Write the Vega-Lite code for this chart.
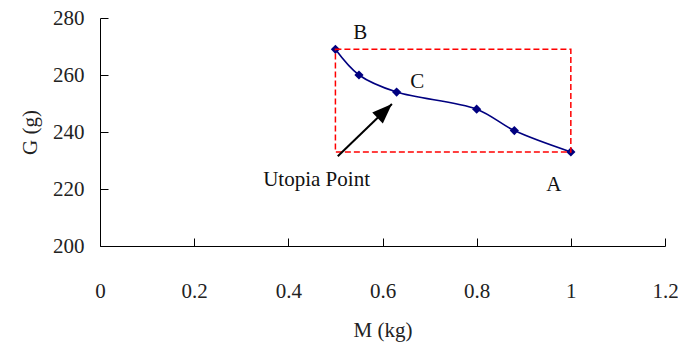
{
  "$schema": "https://vega.github.io/schema/vega-lite/v6.json",
  "width": 565,
  "height": 228,
  "autosize": "none",
  "padding": {"left": 100, "top": 18, "right": 13, "bottom": 99},
  "background": "white",
  "config": {
    "view": {"stroke": null},
    "font": "Liberation Serif",
    "axis": {
      "grid": false,
      "domainColor": "black",
      "domainWidth": 1,
      "tickColor": "black",
      "tickSize": -8,
      "labelFlush": false,
      "labelOverlap": false,
      "labelFont": "'Liberation Serif', 'DejaVu Serif', serif",
      "titleFont": "'Liberation Serif', 'DejaVu Serif', serif",
      "titleFontWeight": "normal"
    }
  },
  "datasets": {
    "curve": [
      {"M": 0.5, "G": 269},
      {"M": 0.55, "G": 260},
      {"M": 0.63, "G": 254},
      {"M": 0.8, "G": 248},
      {"M": 0.88, "G": 240.5},
      {"M": 1.0, "G": 233}
    ],
    "box": [{"x1": 0.5, "x2": 1.0, "y1": 233, "y2": 269}],
    "arrow": [
      {"M": 0.505, "G": 231.5, "o": 0},
      {"M": 0.62, "G": 249.8, "o": 1}
    ],
    "head": [{"M": 0.62, "G": 249.8}],
    "labels": [
      {"M": 0.553, "G": 274.7, "t": "B"},
      {"M": 0.674, "G": 257.5, "t": "C"},
      {"M": 0.964, "G": 221.4, "t": "A"},
      {"M": 0.46, "G": 223.2, "t": "Utopia Point"}
    ]
  },
  "layer": [
    {
      "data": {"name": "curve"},
      "mark": {"type": "line", "interpolate": "catmull-rom", "color": "#000080", "strokeWidth": 1.6},
      "encoding": {
        "x": {"field": "M", "type": "quantitative", "scale": {"domain": [0, 1.2], "nice": false},
          "axis": {"values": [0, 0.2, 0.4, 0.6, 0.8, 1, 1.2], "title": "M (kg)", "format": "~g",
            "labelFont": "'Liberation Serif', 'DejaVu Serif', serif", "labelFontSize": 21, "labelColor": "#222", "labelPadding": 42,
            "titleFont": "'Liberation Serif', 'DejaVu Serif', serif", "titleFontSize": 21, "titleColor": "#222", "titlePadding": 18}},
        "y": {"field": "G", "type": "quantitative", "scale": {"domain": [200, 280], "nice": false, "zero": false},
          "axis": {"values": [200, 220, 240, 260, 280], "title": "G (g)",
            "labelFont": "'Liberation Serif', 'DejaVu Serif', serif", "labelFontSize": 21, "labelColor": "#222", "labelPadding": 24,
            "titleFont": "'Liberation Serif', 'DejaVu Serif', serif", "titleFontSize": 21, "titleColor": "#222", "titlePadding": 12}}
      }
    },
    {
      "data": {"name": "curve"},
      "mark": {"type": "point", "shape": "diamond", "filled": true, "color": "#000080", "size": 85, "opacity": 1},
      "encoding": {
        "x": {"field": "M", "type": "quantitative"},
        "y": {"field": "G", "type": "quantitative"}
      }
    },
    {
      "data": {"name": "box"},
      "mark": {"type": "rect", "fill": null, "fillOpacity": 0, "stroke": "#ff0000", "strokeWidth": 1.5, "strokeDash": [6, 3]},
      "encoding": {
        "x": {"field": "x1", "type": "quantitative"},
        "x2": {"field": "x2"},
        "y": {"field": "y1", "type": "quantitative"},
        "y2": {"field": "y2"}
      }
    },
    {
      "data": {"name": "arrow"},
      "mark": {"type": "line", "color": "black", "strokeWidth": 2},
      "encoding": {
        "x": {"field": "M", "type": "quantitative"},
        "y": {"field": "G", "type": "quantitative"},
        "order": {"field": "o"}
      }
    },
    {
      "data": {"name": "head"},
      "mark": {"type": "point", "shape": "M0,0L0.38,1L-0.38,1Z", "filled": true, "color": "black", "opacity": 1, "size": 1600, "angle": 46},
      "encoding": {
        "x": {"field": "M", "type": "quantitative"},
        "y": {"field": "G", "type": "quantitative"}
      }
    },
    {
      "data": {"name": "labels"},
      "mark": {"type": "text", "font": "'Liberation Serif', 'DejaVu Serif', serif", "fontSize": 21, "color": "#111", "align": "center", "baseline": "middle"},
      "encoding": {
        "x": {"field": "M", "type": "quantitative"},
        "y": {"field": "G", "type": "quantitative"},
        "text": {"field": "t"}
      }
    }
  ]
}
